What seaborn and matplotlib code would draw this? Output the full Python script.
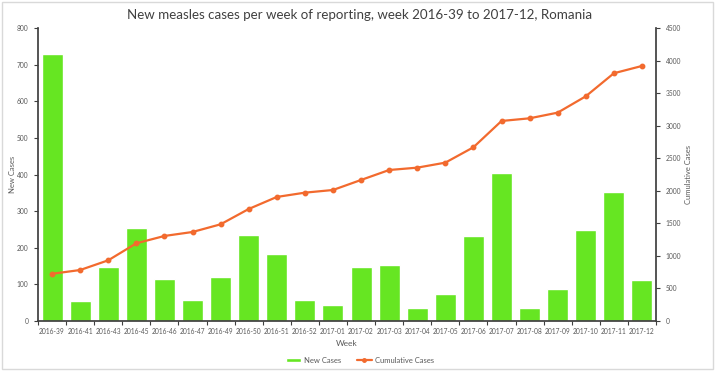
import matplotlib
matplotlib.use('Agg')
import matplotlib.pyplot as plt
from matplotlib.patches import Rectangle, Patch
from matplotlib.lines import Line2D
from matplotlib.ticker import FixedLocator
import seaborn as sns
import pandas as pd

# Data
weeks = ['2016-39', '2016-41', '2016-43', '2016-45', '2016-46', '2016-47',
         '2016-49', '2016-50', '2016-51', '2016-52', '2017-01', '2017-02',
         '2017-03', '2017-04', '2017-05', '2017-06', '2017-07', '2017-08',
         '2017-09', '2017-10', '2017-11', '2017-12']
new_cases = [730, 55, 147, 255, 115, 57, 120, 235, 184, 58, 45, 148,
             152, 35, 75, 232, 404, 35, 87, 249, 353, 112]
cumulative_cases = [725, 783, 932, 1193, 1306, 1367, 1485, 1720, 1905, 1971,
                    2012, 2166, 2319, 2355, 2432, 2668, 3072, 3113, 3200,
                    3451, 3805, 3917]
left_ticks = [0, 100, 200, 300, 400, 500, 600, 700, 800]
right_ticks = [0, 500, 1000, 1500, 2000, 2500, 3000, 3500, 4000, 4500]

bar_color = '#66E622'
line_color = '#F26A2E'
text_color = '#595959'
spine_color = '#3F3F3F'

sns.set_theme(style='white')
plt.rcParams['font.family'] = ['Lato', 'DejaVu Sans']

df = pd.DataFrame({'week': weeks, 'new': new_cases, 'cum': cumulative_cases})

fig = plt.figure(figsize=(7.2, 3.72), dpi=100)
ax = fig.add_axes([38 / 720, 1 - 321 / 372, (656 - 38) / 720, (321 - 28) / 372])

sns.barplot(data=df, x='week', y='new', color=bar_color, saturation=1,
            width=0.75, ax=ax)
ax.set_ylim(0, 800)
ax.set_yticks(left_ticks)
ax.set_xlim(-0.5, len(weeks) - 0.5)

ax2 = ax.twinx()
sns.pointplot(data=df, x='week', y='cum', color=line_color, markers='o',
              markersize=3, linewidth=1.6, ax=ax2)
ax2.set_ylim(0, 4500)
ax2.set_yticks(right_ticks)
ax2.set_xlim(-0.5, len(weeks) - 0.5)

for a in (ax, ax2):
    a.spines['top'].set_visible(False)
    a.tick_params(axis='both', which='both', length=3, width=0.8,
                  color=spine_color, labelsize=4.8, labelcolor=text_color)
ax.spines['right'].set_visible(False)
ax.spines['left'].set_color(spine_color)
ax.spines['bottom'].set_color(spine_color)
ax2.spines['left'].set_visible(False)
ax2.spines['bottom'].set_visible(False)
ax2.spines['right'].set_color(spine_color)

# x ticks marks sit between the bars, labels under the bars
ax.xaxis.set_minor_locator(FixedLocator([i - 0.5 for i in range(len(weeks) + 1)]))
ax.tick_params(axis='x', which='major', bottom=True, length=0, pad=5)
ax.tick_params(axis='x', which='minor', bottom=True, direction='out', length=3)
ax.tick_params(axis='y', left=True, direction='out', pad=4)
ax2.tick_params(axis='y', right=True, direction='out', pad=4)

ax.set_xlabel('Week', fontsize=6, color=text_color)
ax.set_ylabel('New Cases', fontsize=5.5, color=text_color)
ax2.set_ylabel('Cumulative Cases', fontsize=5.5, color=text_color)
ax.xaxis.set_label_coords(0.5, -0.065)
ax.yaxis.set_label_coords(-0.035, 0.5)
ax2.yaxis.set_label_coords(1.047, 0.5)

fig.suptitle('New measles cases per week of reporting, week 2016-39 to 2017-12, Romania',
             fontsize=9.6, color='#404040', y=0.975)

handles = [Patch(facecolor=bar_color, label='New Cases'),
           Line2D([], [], color=line_color, marker='o', markersize=2.5,
                  linewidth=1.6, label='Cumulative Cases')]
fig.legend(handles=handles, loc='center', bbox_to_anchor=(0.5, 0.032),
           ncol=2, frameon=False, fontsize=5.5, labelcolor=text_color,
           handlelength=2.0, handleheight=0.5, handletextpad=0.4,
           columnspacing=2.0)

fig.patches.append(Rectangle((2 / 720, 3 / 372), 711 / 720, 367 / 372,
                             transform=fig.transFigure, fill=False,
                             edgecolor='#D9D9D9', linewidth=1))

fig.savefig('out.png', dpi=100)
plt.close(fig)
